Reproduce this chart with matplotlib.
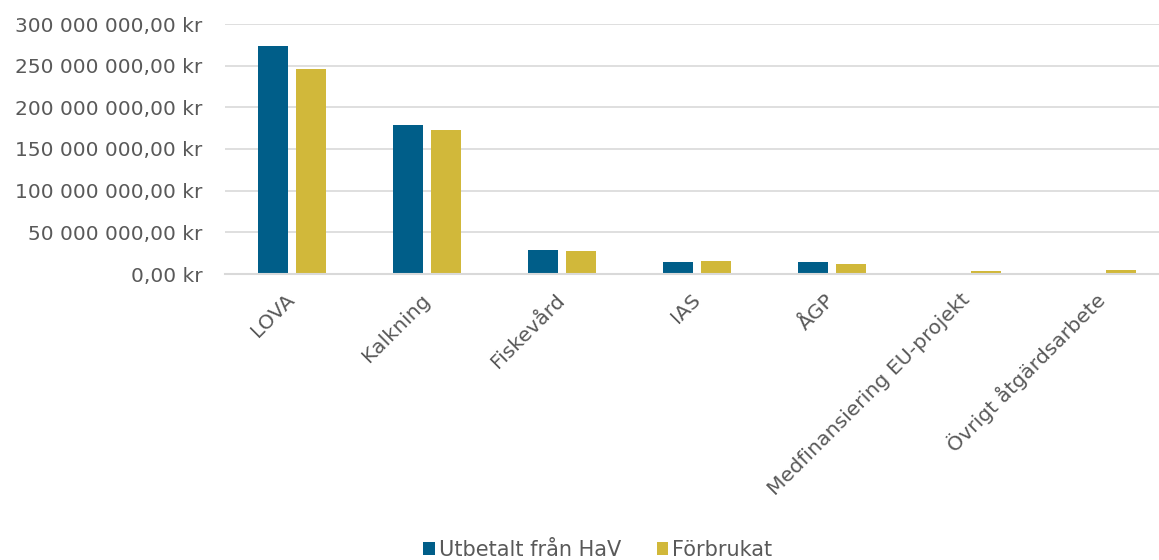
import matplotlib
matplotlib.use("Agg")
import matplotlib.pyplot as plt
import matplotlib.ticker as mticker
import numpy as np

# Values (kr)
categories = ["LOVA", "Kalkning", "Fiskevård", "IAS", "ÅGP",
              "Medfinansiering EU-projekt", "Övrigt åtgärdsarbete"]
utbetalt = [274_000_000, 178_500_000, 29_200_000, 14_400_000, 14_800_000, 0, 0]
forbrukat = [245_600_000, 172_800_000, 28_000_000, 15_600_000, 12_400_000, 4_000_000, 5_200_000]
series_names = ["Utbetalt från HaV", "Förbrukat"]

blue = "#005E89"
yellow = "#D1B83A"
grey_text = "#595959"
grid_col = "#D9D9D9"

plt.rcParams["font.family"] = ["DejaVu Sans"]

fig = plt.figure(figsize=(11.59, 5.6), dpi=100)
ax = fig.add_axes([224.5 / 1159, 1 - 274 / 560, 945 / 1159, 250 / 560])

x = np.arange(len(categories))
w = 0.222
off = 0.144
ax.bar(x - off, utbetalt, w, color=blue, label=series_names[0], zorder=3)
ax.bar(x + off, forbrukat, w, color=yellow, label=series_names[1], zorder=3)

ax.set_xlim(-0.5, len(categories) - 0.5)
ax.set_ylim(0, 300_000_000)
ax.set_yticks(np.arange(0, 300_000_001, 50_000_000))

def kr(v, pos):
    return f"{v:,.2f}".replace(",", " ").replace(".", ",") + " kr"

ax.yaxis.set_major_formatter(mticker.FuncFormatter(kr))
ax.grid(axis="y", color=grid_col, linewidth=1.2, zorder=0)
for s in ["top", "right", "left"]:
    ax.spines[s].set_visible(False)
ax.spines["bottom"].set_color(grid_col)
ax.spines["bottom"].set_linewidth(1.5)
ax.spines["bottom"].set_zorder(4)

ax.tick_params(axis="y", length=0, pad=15.8, labelsize=14.5, labelcolor=grey_text)
ax.tick_params(axis="x", length=0, pad=16.5, labelsize=14.7, labelcolor=grey_text)
ax.set_xticks(x)
ax.set_xticklabels(categories, rotation=45, ha="right", va="center", rotation_mode="anchor")

fig.legend(loc="center", bbox_to_anchor=(598 / 1159, 1 - 550 / 560), ncol=2, frameon=False,
           fontsize=15, labelcolor=grey_text, handlelength=0.55, handleheight=0.55,
           handletextpad=0.2, columnspacing=1.7, borderpad=0)

fig.savefig("out.png", dpi=100)
